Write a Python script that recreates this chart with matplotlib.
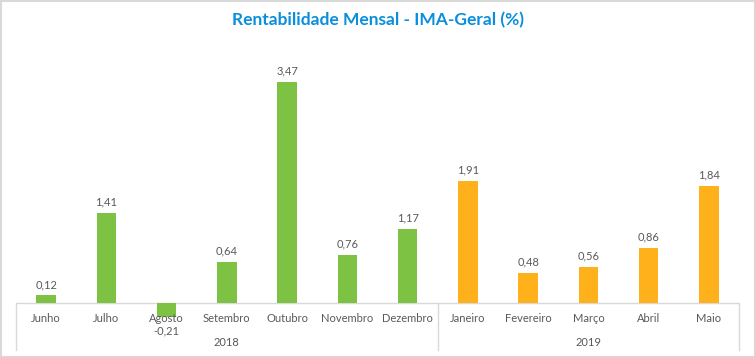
import numpy as np
import matplotlib.pyplot as plt

months = ['Junho', 'Julho', 'Agosto', 'Setembro', 'Outubro', 'Novembro', 'Dezembro',
          'Janeiro', 'Fevereiro', 'Março', 'Abril', 'Maio']
values = [0.12, 1.41, -0.21, 0.64, 3.47, 0.76, 1.17, 1.91, 0.48, 0.56, 0.86, 1.84]
years = ['2018', '2019']
months_per_year = [7, 5]

green = '#7DC242'
orange = '#FFB11B'
text_gray = '#595959'
line_gray = '#D9D9D9'

plt.rcParams['font.family'] = ['Lato', 'DejaVu Sans']

fig = plt.figure(figsize=(7.55, 3.57), dpi=100)
ax = fig.add_axes([16 / 755, 22 / 357, 723 / 755, 295 / 357])

x = np.arange(len(months))
colors = [green] * months_per_year[0] + [orange] * months_per_year[1]
ax.bar(x, values, width=0.32, color=colors, zorder=2)

ax.set_xlim(-0.5, len(months) - 0.5)
ax.set_ylim(-0.5, 4.13)
ax.axis('off')
ax.axhline(0, color=line_gray, lw=1, zorder=1)

# rótulos de valor
for xi, v in zip(x, values):
    lbl = f'{v:.2f}'.replace('.', ',')
    if v >= 0:
        ax.annotate(lbl, (xi, v), xytext=(0, 4), textcoords='offset points',
                    ha='center', va='bottom', fontsize=8, color=text_gray)
    else:
        ax.annotate(lbl, (xi, 0), xytext=(0, -20), textcoords='offset points',
                    ha='center', va='center', fontsize=8, color=text_gray,
                    annotation_clip=False)

# meses
for xi, m in zip(x, months):
    ax.annotate(m, (xi, 0), xytext=(0, -11), textcoords='offset points',
                ha='center', va='center', fontsize=8, color=text_gray,
                annotation_clip=False)

# anos e separadores
start = -0.5
seps = [start]
for yr, n in zip(years, months_per_year):
    end = start + n
    ax.annotate(yr, ((start + end) / 2, 0), xytext=(0, -28.5),
                textcoords='offset points', ha='center', va='center',
                fontsize=8, color=text_gray, annotation_clip=False)
    seps.append(end)
    start = end
for s in seps:
    ax.plot([s, s], [0, -0.74], color=line_gray, lw=1, clip_on=False, zorder=1)

fig.text(0.5, 1 - 20 / 357, 'Rentabilidade Mensal - IMA-Geral (%)', ha='center', va='center',
         fontsize=12.5, fontweight='bold', color='#0A8FDC')

border = plt.Rectangle((0.5 / 755, 0.5 / 357), 754 / 755, 356 / 357, transform=fig.transFigure,
                       fill=False, edgecolor=line_gray, lw=1.5)
fig.patches.append(border)

fig.savefig('out.png', dpi=100)
